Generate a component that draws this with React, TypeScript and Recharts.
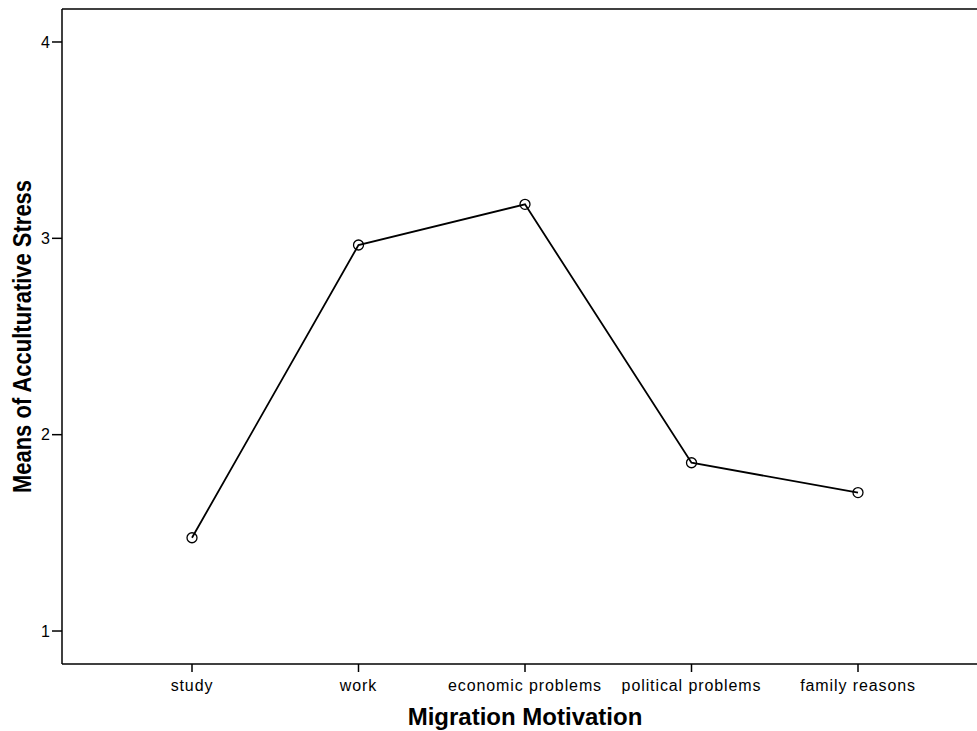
import React from 'react';
import { LineChart, Line, XAxis, YAxis, ReferenceLine } from 'recharts';

const categories = ['study', 'work', 'economic problems', 'political problems', 'family reasons'];
const means = [1.475, 2.966, 3.173, 1.857, 1.705];
const yTicks = [1, 2, 3, 4];
const yDomain: [number, number] = [0.832, 4.168];

const data = categories.map((c, i) => ({ category: c, mean: means[i] }));

const FONT = 'Arial, "Liberation Sans", Helvetica, sans-serif';

const XLabel = (props: any) => {
  const vb = props.viewBox || {};
  const cx = vb.x + 130 + (vb.width - 272) / 2;
  return (
    <text x={cx} y={725} textAnchor="middle" fontFamily={FONT} fontWeight="bold" fontSize={24} fill="#000">
      Migration Motivation
    </text>
  );
};

const YLabel = (props: any) => {
  const vb = props.viewBox || {};
  const cx = 22;
  const cy = vb.y + vb.height / 2;
  return (
    <text
      x={0}
      y={0}
      transform={`translate(${cx},${cy}) rotate(-90) scale(1,1.15)`}
      textAnchor="middle"
      dominantBaseline="central"
      fontFamily={FONT}
      fontWeight="bold"
      fontSize={22}
      fill="#000"
    >
      Means of Acculturative Stress
    </text>
  );
};

export default function App() {
  return (
    <div style={{ position: 'absolute', left: 0, top: 0, width: 977, height: 731, overflow: 'hidden', background: '#fff' }}>
      <LineChart width={1000} height={731} data={data} margin={{ top: 9, right: 0, left: 0, bottom: 37 }}>
        <XAxis
          dataKey="category"
          height={30}
          padding={{ left: 130, right: 142 }}
          axisLine={{ stroke: '#000', strokeWidth: 1.5 }}
          tickLine={{ stroke: '#000', strokeWidth: 1.5 }}
          tickSize={8}
          tickMargin={8}
          tick={{ fill: '#000', fontSize: 16, fontFamily: FONT, letterSpacing: 0.9 }}
          interval={0}
          label={<XLabel />}
        />
        <YAxis
          type="number"
          domain={yDomain}
          ticks={yTicks}
          allowDataOverflow
          width={62}
          axisLine={{ stroke: '#000', strokeWidth: 1.5 }}
          tickLine={{ stroke: '#000', strokeWidth: 1.5 }}
          tickSize={10}
          tickMargin={2}
          tick={{ fill: '#000', fontSize: 16, fontFamily: FONT }}
          label={<YLabel />}
        />
        <ReferenceLine y={yDomain[1]} stroke="#000" strokeWidth={1.5} />
        <Line
          type="linear"
          dataKey="mean"
          stroke="#000"
          strokeWidth={1.8}
          dot={{ r: 5, stroke: '#000', strokeWidth: 1.3, fill: 'none' }}
          activeDot={false}
          isAnimationActive={false}
        />
      </LineChart>
    </div>
  );
}
